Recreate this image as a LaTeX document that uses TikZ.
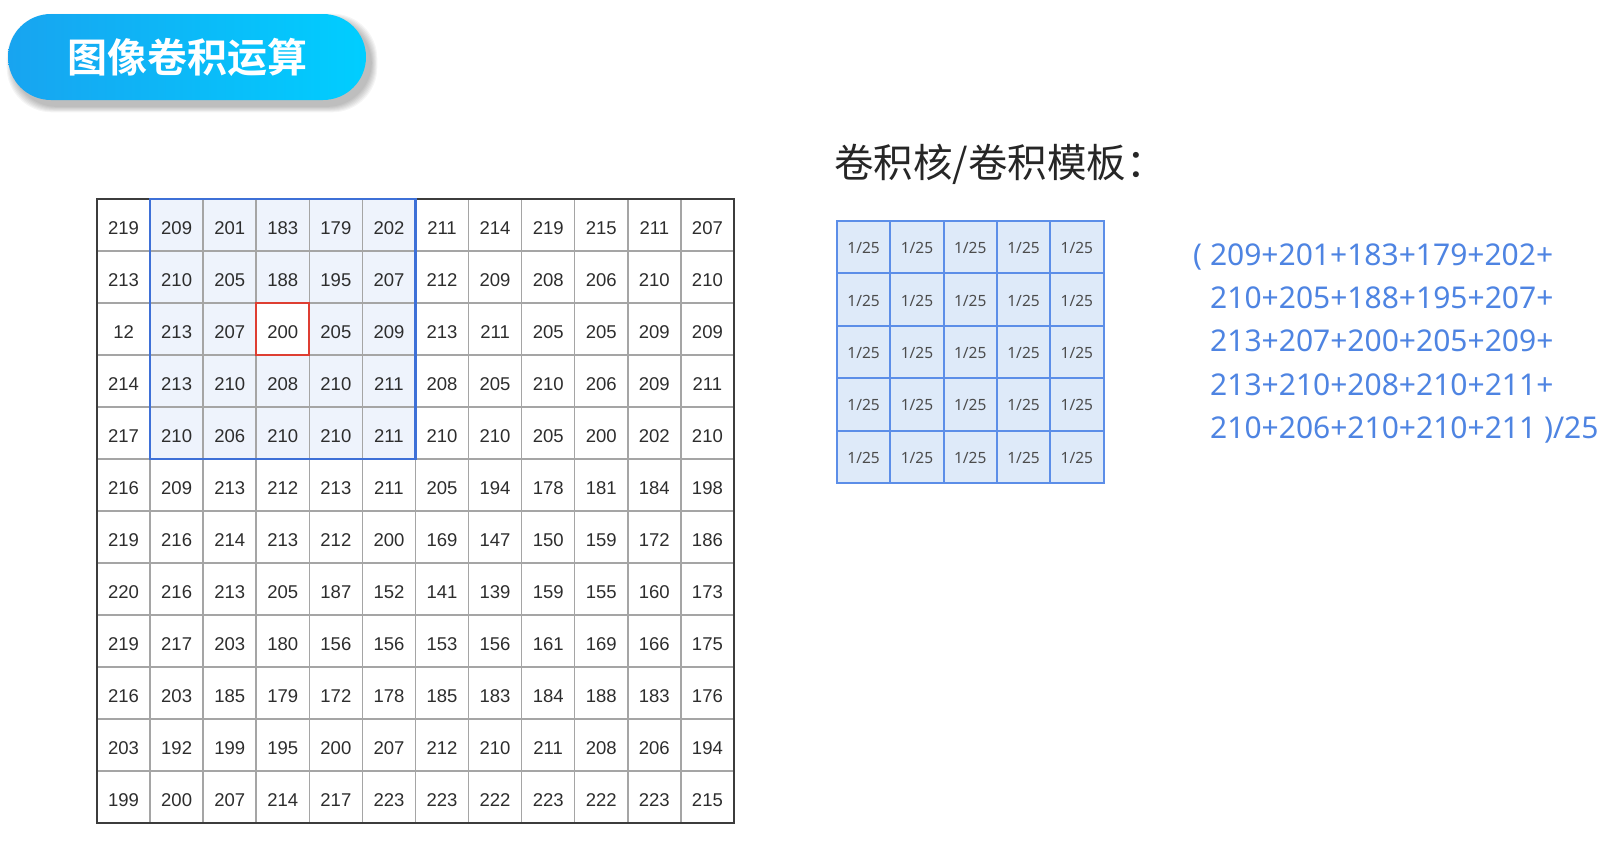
\documentclass[tikz,border=0pt]{standalone}
\usepackage{fontspec}
\setmainfont{Liberation Sans}
\newfontfamily\cjk{Noto Sans CJK SC}
\newfontfamily\cjkbold{Noto Sans CJK SC Bold}
\newfontfamily\formfont{Noto Sans}
\definecolor{pillL}{RGB}{24,164,240}
\definecolor{pillR}{RGB}{0,206,255}
\definecolor{gridgray}{RGB}{165,165,165}
\definecolor{borderdark}{RGB}{60,60,60}
\definecolor{winfill}{RGB}{238,243,252}
\definecolor{winblue}{RGB}{62,112,215}
\definecolor{redbox}{RGB}{222,62,50}
\definecolor{kfill}{RGB}{222,234,249}
\definecolor{kline}{RGB}{92,142,232}
\definecolor{formblue}{RGB}{78,132,226}
\definecolor{numgray}{RGB}{45,45,45}
\tikzset{
  pill/.style={rectangle, rounded corners=43pt, minimum width=358pt, minimum height=86pt,
    left color=pillL, right color=pillR, text=white, inner sep=0pt,
    font=\cjkbold\fontsize{40}{42}\selectfont},
  cellnum/.style={inner sep=0pt, text=numgray, font=\fontsize{18.5}{20}\selectfont},
  knum/.style={inner sep=0pt, text=numgray!85, font=\formfont\fontsize{15.5}{17}\selectfont},
  gridline/.style={draw=gridgray, line width=1.5pt},
  kgrid/.style={draw=kline, line width=2pt},
  formline/.style={inner sep=0pt, anchor=base west, text=formblue, font=\formfont\fontsize{30}{32}\selectfont},
  ktitle/.style={inner sep=0pt, anchor=west, text=black!85, font=\cjk\fontsize{39.5}{42}\selectfont}
}
\begin{document}
\begin{tikzpicture}[x=1pt,y=-1pt]
\useasboundingbox (0,0) rectangle (1618,844);
\fill[white] (0,0) rectangle (1618,844);
% title pill shadow
\foreach \i in {1,...,7}{
  \fill[black, opacity=0.04, rounded corners=45pt]
    ({8+5-\i*0.9},{14+6-\i*0.9}) rectangle ({366+5+\i*0.9},{100+6+\i*0.9});
}
\node[pill] (title) at (187,57) {图像卷积运算};
% image grid
\def\gx{97}\def\gy{199}\def\cw{53.08}\def\ch{52}
\fill[winfill] ({\gx+\cw},\gy) rectangle ({\gx+6*\cw},{\gy+5*\ch});
\fill[white] ({\gx+3*\cw},{\gy+2*\ch}) rectangle ({\gx+4*\cw},{\gy+3*\ch});
\foreach \i in {1,...,11}{
  \draw[gridline] ({\gx+\i*\cw},\gy) -- ({\gx+\i*\cw},{\gy+12*\ch});
  \draw[gridline] (\gx,{\gy+\i*\ch}) -- ({\gx+12*\cw},{\gy+\i*\ch});
}
\draw[draw=borderdark, line width=2.5pt] (\gx,\gy) rectangle ({\gx+12*\cw},{\gy+12*\ch});
\draw[draw=winblue, line width=2.5pt] ({\gx+\cw},\gy) rectangle ({\gx+6*\cw},{\gy+5*\ch});
\draw[draw=redbox, line width=2pt] ({\gx+3*\cw},{\gy+2*\ch}) rectangle ({\gx+4*\cw},{\gy+3*\ch});
\foreach \row [count=\r from 0] in {
  {219,209,201,183,179,202,211,214,219,215,211,207},
  {213,210,205,188,195,207,212,209,208,206,210,210},
  {12,213,207,200,205,209,213,211,205,205,209,209},
  {214,213,210,208,210,211,208,205,210,206,209,211},
  {217,210,206,210,210,211,210,210,205,200,202,210},
  {216,209,213,212,213,211,205,194,178,181,184,198},
  {219,216,214,213,212,200,169,147,150,159,172,186},
  {220,216,213,205,187,152,141,139,159,155,160,173},
  {219,217,203,180,156,156,153,156,161,169,166,175},
  {216,203,185,179,172,178,185,183,184,188,183,176},
  {203,192,199,195,200,207,212,210,211,208,206,194},
  {199,200,207,214,217,223,223,222,223,222,223,215}}{
  \foreach \v [count=\c from 0] in \row {
    \node[cellnum] (g-\r-\c) at ({\gx+(\c+0.5)*\cw},{\gy+(\r+0.5)*\ch+3}) {\v};
  }
}
% kernel
\node[ktitle] (ktitle) at (834,164) {卷积核/卷积模板：};
\def\kx{837}\def\ky{221}\def\kw{53.3}\def\kh{52.4}
\fill[kfill] (\kx,\ky) rectangle ({\kx+5*\kw},{\ky+5*\kh});
\foreach \i in {1,...,4}{
  \draw[kgrid] ({\kx+\i*\kw},\ky) -- ({\kx+\i*\kw},{\ky+5*\kh});
  \draw[kgrid] (\kx,{\ky+\i*\kh}) -- ({\kx+5*\kw},{\ky+\i*\kh});
}
\draw[kgrid] (\kx,\ky) rectangle ({\kx+5*\kw},{\ky+5*\kh});
\foreach \r in {0,...,4}{
  \foreach \c in {0,...,4}{
    \node[knum] (k-\r-\c) at ({\kx+(\c+0.5)*\kw},{\ky+(\r+0.5)*\kh+1}) {1/25};
  }
}
% formula
\node[formline] (f1) at (1193,265) {( 209+201+183+179+202+};
\node[formline] (f2) at (1210,308.3) {210+205+188+195+207+};
\node[formline] (f3) at (1210,351.7) {213+207+200+205+209+};
\node[formline] (f4) at (1210,395) {213+210+208+210+211+};
\node[formline] (f5) at (1210,438.3) {210+206+210+210+211 )/25};
\end{tikzpicture}
\end{document}
